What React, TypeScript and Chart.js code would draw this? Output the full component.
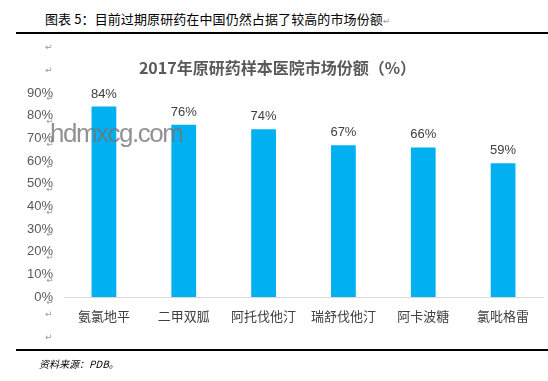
import React, { useEffect, useRef } from "react";
import { Chart, registerables } from "chart.js";

Chart.register(...registerables);

const categories = ["氨氯地平", "二甲双胍", "阿托伐他汀", "瑞舒伐他汀", "阿卡波糖", "氯吡格雷"];
const shares = [84, 76, 74, 67, 66, 59];
const yTicks = [0, 10, 20, 30, 40, 50, 60, 70, 80, 90];
const chartTitle = "2017年原研药样本医院市场份额（%）";
const headerText = "图表 5：目前过期原研药在中国仍然占据了较高的市场份额";
const sourceText = "资料来源：PDB。";

const RET = "\u21B5";

const valueLabels = {
  id: "valueLabels",
  afterDatasetsDraw(chart: any) {
    const ctx = chart.ctx;
    const meta = chart.getDatasetMeta(0);
    ctx.save();
    ctx.font = "13px 'Liberation Sans', Arial, sans-serif";
    ctx.fillStyle = "#404040";
    ctx.textAlign = "center";
    ctx.textBaseline = "bottom";
    meta.data.forEach((bar: any, i: number) => {
      ctx.fillText(shares[i] + "%", bar.x, bar.y - 6);
    });
    ctx.restore();
  },
};

const returnMarks = {
  id: "returnMarks",
  afterDraw(chart: any) {
    const ctx = chart.ctx;
    const y = chart.scales.y;
    ctx.save();
    ctx.font = "9px 'DejaVu Sans', sans-serif";
    ctx.fillStyle = "#9a9a9a";
    ctx.textAlign = "center";
    ctx.textBaseline = "middle";
    yTicks.forEach((v) => {
      ctx.fillText(RET, chart.chartArea.left - 14, y.getPixelForValue(v) + 6);
    });
    ctx.restore();
  },
};

export default function App() {
  const ref = useRef<HTMLCanvasElement>(null);

  useEffect(() => {
    if (!ref.current) return;
    const chart = new Chart(ref.current, {
      type: "bar",
      data: {
        labels: categories,
        datasets: [
          {
            data: shares,
            backgroundColor: "#00b0f0",
            borderWidth: 0,
            categoryPercentage: 1,
            barPercentage: 0.31,
          },
        ],
      },
      options: {
        animation: false,
        responsive: false,
        maintainAspectRatio: false,
        layout: { padding: { top: 0, right: 5, bottom: 0, left: 0 } },
        plugins: {
          legend: { display: false },
          tooltip: { enabled: false },
          title: {
            display: true,
            text: chartTitle,
            color: "#595959",
            font: { family: "'Noto Sans CJK SC', sans-serif", size: 16, weight: "bold" },
            padding: { top: 58, bottom: 15.8 },
          },
        },
        scales: {
          x: {
            grid: { display: false, drawTicks: false },
            border: { display: true, color: "#d9d9d9", width: 1 },
            ticks: {
              color: "#404040",
              padding: 11,
              font: { family: "'Noto Sans CJK SC', sans-serif", size: 13 },
              maxRotation: 0,
              autoSkip: false,
            },
            afterFit(scale: any) {
              scale.height = 84;
            },
          },
          y: {
            min: 0,
            max: 90,
            grid: { display: false, drawTicks: false },
            border: { display: false },
            afterBuildTicks(scale: any) {
              scale.ticks = yTicks.map((v) => ({ value: v }));
            },
            ticks: {
              color: "#595959",
              padding: 11,
              font: { family: "'Liberation Sans', Arial, sans-serif", size: 13 },
              callback: (v: any) => v + "%",
            },
            afterFit(scale: any) {
              scale.width = 52;
            },
          },
        },
      },
      plugins: [valueLabels, returnMarks],
    });
    return () => chart.destroy();
  }, []);

  const retStyle: React.CSSProperties = {
    position: "absolute",
    font: "9px 'DejaVu Sans', sans-serif",
    color: "#9a9a9a",
  };

  return (
    <div
      style={{
        position: "absolute",
        left: 0,
        top: 0,
        width: 548,
        height: 381,
        overflow: "hidden",
        background: "#ffffff",
      }}
    >
      <div
        style={{
          position: "absolute",
          left: 45,
          top: 9,
          font: "13px 'Noto Sans CJK SC', sans-serif",
          color: "#000000",
          whiteSpace: "nowrap",
          letterSpacing: "0.1px",
        }}
      >
        {headerText}
        <span style={{ font: "9px 'DejaVu Sans', sans-serif", color: "#9a9a9a" }}>{RET}</span>
      </div>
      <div style={{ position: "absolute", left: 16, top: 32, width: 532, height: 1.5, background: "#000" }} />
      <div style={{ ...retStyle, left: 45, top: 42 }}>{RET}</div>
      <div style={{ ...retStyle, left: 45, top: 65 }}>{RET}</div>
      <canvas
        ref={ref}
        width={536}
        height={381}
        style={{ position: "absolute", left: 12, top: 0, width: 536, height: 381 }}
      />
      <div style={{ ...retStyle, left: 45, top: 309 }}>{RET}</div>
      <div style={{ ...retStyle, left: 45, top: 332 }}>{RET}</div>
      <div style={{ position: "absolute", left: 16, top: 349, width: 532, height: 1.5, background: "#000" }} />
      <div
        style={{
          position: "absolute",
          left: 39,
          top: 356,
          font: "italic 10px 'Noto Sans CJK SC', sans-serif",
          color: "#000000",
          whiteSpace: "nowrap",
        }}
      >
        {sourceText}
      </div>
      <div
        style={{
          position: "absolute",
          left: 50,
          top: 118,
          font: "26px 'Liberation Sans', Arial, sans-serif",
          letterSpacing: "-1.5px",
          color: "rgba(115,115,115,0.78)",
          whiteSpace: "nowrap",
          pointerEvents: "none",
        }}
      >
        hdmxcg.com
      </div>
    </div>
  );
}
